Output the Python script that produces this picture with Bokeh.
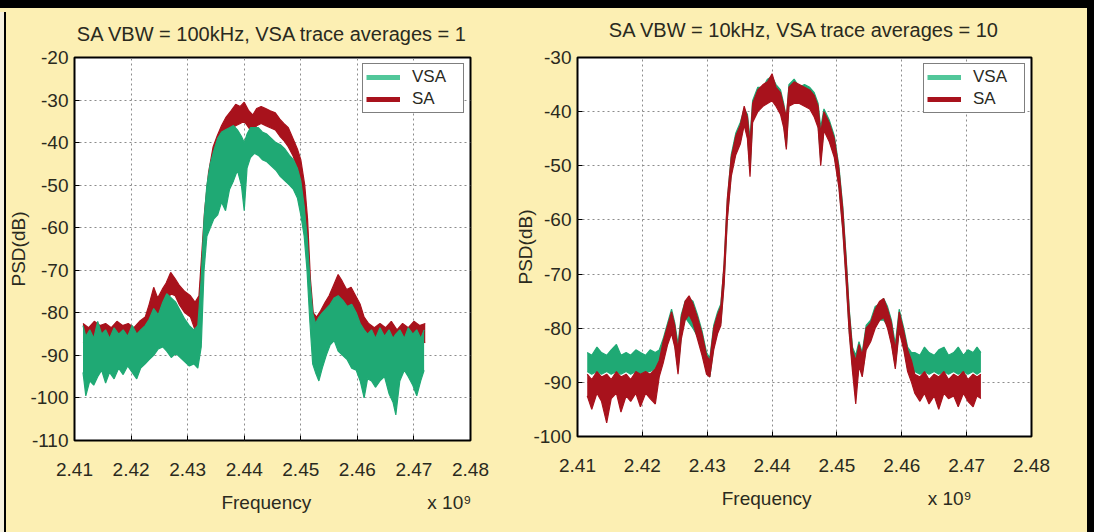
from bokeh.plotting import figure
from bokeh.layouts import row
from bokeh.models import (FixedTicker, PrintfTickFormatter, Legend, LegendItem,
                          GlobalInlineStyleSheet, Range1d)
from bokeh.embed import file_html
from bokeh.resources import INLINE

# ---------------- data ----------------
title_left = "SA VBW = 100kHz, VSA trace averages = 1"
title_right = "SA VBW = 10kHz, VSA trace averages = 10"
x_label = "Frequency"
x_scale_note = "x 10\u2079"
y_label = "PSD(dB)"
x_ticks = [2.41, 2.42, 2.43, 2.44, 2.45, 2.46, 2.47, 2.48]
y_ticks_left = [-110, -100, -90, -80, -70, -60, -50, -40, -30, -20]
y_ticks_right = [-100, -90, -80, -70, -60, -50, -40, -30]
series_names = ["VSA", "SA"]

# Left panel, SA trace (upper / lower envelope of the noisy trace)
lsa_f = [2.4115, 2.4125, 2.4135, 2.4145, 2.4155, 2.4165, 2.4175, 2.4185, 2.4195, 2.4205, 2.4215, 2.4225,
         2.4232, 2.4240, 2.4247, 2.4255, 2.4262, 2.4270, 2.4278, 2.4285, 2.4295, 2.4305, 2.4313, 2.4320,
         2.4325, 2.4330, 2.4337, 2.4345, 2.4352, 2.4360, 2.4368, 2.4377, 2.4385, 2.4393, 2.4400, 2.4408,
         2.4415, 2.4422, 2.4430, 2.4438, 2.4446, 2.4455, 2.4463, 2.4470, 2.4478, 2.4486, 2.4494, 2.4500,
         2.4507, 2.4512, 2.4517, 2.4522, 2.4528,
         2.4535, 2.4543, 2.4550, 2.4558, 2.4566, 2.4573, 2.4581, 2.4589, 2.4597, 2.4605, 2.4612, 2.4620,
         2.4630, 2.4640, 2.4650, 2.4660, 2.4670, 2.4680, 2.4690, 2.4700, 2.4710, 2.4720]
lsa_top = [-82.5, -83.5, -82, -83, -82.5, -83.5, -82, -83, -82.5, -83.5, -82, -81,
           -78, -74, -76.5, -74.5, -73, -70.5, -72, -73.5, -75, -76, -77.5, -76,
           -66, -56, -47, -41, -38.5, -36, -34, -32.5, -31, -31.5, -30.5, -32.5,
           -33.5, -32, -31.5, -32, -32.5, -33, -34.5, -35.5, -36.5, -39, -41.5, -44,
           -50, -58, -72, -80, -81,
           -79.5, -77.5, -76, -73.5, -71, -72.5, -74.5, -74, -76, -78, -81, -82.5,
           -83.5, -82.5, -83.5, -82, -84, -82.5, -83.5, -82, -83, -82.5]
lsa_bot = [-87, -86.5, -87, -86, -87.5, -86, -87, -86.5, -87, -86, -86.5, -85,
           -82, -80, -80.5, -79, -78, -75.5, -76, -78, -80, -81, -84, -82,
           -74, -62, -52, -46, -43, -40, -38.5, -37, -36, -35.5, -35, -36.5,
           -37.5, -36, -35.5, -36, -36.5, -37, -38.5, -39.5, -41, -43, -46, -49,
           -56, -64, -78, -84, -85,
           -83.5, -82, -80.5, -78, -76, -77, -79, -78.5, -80.5, -82.5, -85, -86.5,
           -86, -87, -86.5, -87, -86.5, -87, -86, -87, -86.5, -87]

# Left panel, VSA trace
lvsa_f = [2.4115, 2.4120, 2.4127, 2.4134, 2.4141, 2.4148, 2.4155, 2.4162, 2.4170, 2.4178, 2.4186, 2.4194,
          2.4202, 2.4210, 2.4217, 2.4225,
          2.4232, 2.4240, 2.4248, 2.4256, 2.4263, 2.4271, 2.4279, 2.4287, 2.4295, 2.4303, 2.4311, 2.4318,
          2.4324, 2.4329, 2.4334, 2.4340, 2.4346, 2.4353, 2.4360, 2.4367, 2.4374, 2.4381,
          2.4388, 2.4395, 2.4400, 2.4405, 2.4411, 2.4418, 2.4425, 2.4432, 2.4440, 2.4448,
          2.4456, 2.4464, 2.4472, 2.4480, 2.4487, 2.4494, 2.4500, 2.4506, 2.4511, 2.4516, 2.4521,
          2.4526, 2.4532, 2.4538, 2.4545, 2.4552, 2.4559, 2.4566, 2.4574, 2.4582, 2.4590, 2.4598, 2.4605, 2.4612,
          2.4618, 2.4625, 2.4632, 2.4640, 2.4648, 2.4656, 2.4663, 2.4668, 2.4675, 2.4683, 2.4690, 2.4698,
          2.4705, 2.4712, 2.4718]
lvsa_top = [-83, -85.5, -84, -86, -82, -85, -84, -86, -83.5, -85, -84, -85.5, -83, -85, -84, -83,
            -81.5, -79, -80.5, -77.5, -75.5, -76.5, -77.5, -79.5, -81.5, -83, -84, -83,
            -72, -58, -50, -45, -42, -39, -37.5, -37, -36.5, -36,
            -37, -38.5, -40, -38, -36.5, -36.5, -36.5, -37.5, -38, -39,
            -40, -40.5, -41.5, -43, -44, -46, -49, -55, -62, -72, -80,
            -82.5, -81, -80, -79, -78, -76.5, -76, -77, -78.5, -78, -80, -82.5, -84,
            -85, -84, -86, -83.5, -85.5, -84, -86, -85, -84, -86, -83.5, -85, -84, -86, -84]
lvsa_bot = [-94, -99.5, -96, -97, -95, -93.5, -96.5, -94, -95.5, -93, -94.5, -92.5, -94, -95.5, -93, -92,
            -91, -90, -88.5, -88, -89, -90.5, -89.5, -90.5, -91.5, -92.5, -92, -93,
            -88, -70, -62, -60, -58, -57, -54, -56, -51, -49,
            -46.5, -50, -56, -46, -43.5, -42.5, -43, -44, -44.5, -45.5,
            -46.5, -48, -49, -50, -51, -53, -57, -62, -70, -82, -92,
            -94, -96, -93, -90, -87.5, -86.5, -89, -90, -91, -93, -93.5, -96, -100,
            -95.5, -96, -97.5, -96, -95, -99, -101, -104, -96, -93.5, -95, -97, -99.5, -96, -93.5]

# Right panel (both traces share the frequency points)
r_f = [2.4115, 2.4122, 2.4130, 2.4137, 2.4145, 2.4152, 2.4160, 2.4167, 2.4175, 2.4182, 2.4190, 2.4197,
       2.4205, 2.4212, 2.4220, 2.4226,
       2.4232, 2.4239, 2.4245, 2.4250, 2.4255, 2.4260, 2.4266, 2.4272, 2.4278, 2.4285, 2.4292, 2.4299,
       2.4304, 2.4310, 2.4316, 2.4321,
       2.4326, 2.4331, 2.4337, 2.4344, 2.4351, 2.4357, 2.4362, 2.4366, 2.4370, 2.4378,
       2.4386, 2.4393, 2.4400, 2.4406, 2.4413, 2.4418, 2.4422, 2.4426, 2.4434, 2.4442,
       2.4450, 2.4458, 2.4465, 2.4471, 2.4475, 2.4480, 2.4488, 2.4496, 2.4503, 2.4509,
       2.4514, 2.4519, 2.4524,
       2.4529, 2.4534, 2.4539, 2.4545, 2.4552, 2.4559, 2.4566, 2.4572, 2.4578, 2.4584, 2.4590, 2.4596,
       2.4603, 2.4609, 2.4615,
       2.4620, 2.4628, 2.4635, 2.4642, 2.4650, 2.4657, 2.4665, 2.4672, 2.4680, 2.4687, 2.4695, 2.4702,
       2.4710, 2.4716, 2.4722]
rsa_top = [-88.5, -89.5, -88, -89, -88.5, -89.5, -88, -89, -88.5, -89.5, -88, -88.5, -88, -88.5, -87.5, -86,
           -82.5, -79.5, -77, -79.5, -84, -78, -75, -74, -75.5, -78, -81, -85, -86, -80, -77.5, -76,
           -68, -56, -48.5, -44.5, -42.5, -39, -41, -46, -38.5, -36,
           -35, -34.5, -33, -35.5, -36.5, -39, -41, -35.5, -34.5, -35,
           -35.5, -36, -37, -39, -44, -40, -42, -45, -50.5, -58,
           -67, -77, -84,
           -86, -83, -85, -80, -79, -76.5, -75, -74.5, -76.5, -79, -84, -77, -80.5, -84, -86,
           -88.5, -89, -88, -89.5, -88.5, -89, -88, -89.5, -88.5, -89, -88, -89.5, -88.5, -89, -88.5]
rsa_bot = [-92.5, -95, -92, -93.5, -97.5, -93, -92, -95.5, -92.5, -93.5, -92, -94.5, -92, -93, -94, -89,
           -86.5, -83, -81, -83.5, -88.5, -82, -78.5, -77.5, -79, -82, -85, -88.5, -89, -84, -81, -79.5,
           -72, -60, -52, -48, -46, -42.5, -45, -52, -42, -40,
           -39, -38.5, -38, -39, -40.5, -43, -47, -39, -38.5, -38.5,
           -39, -39.5, -41, -43, -50, -43.5, -45.5, -48.5, -54, -62,
           -71, -81, -88,
           -94, -87, -89, -84, -82.5, -80, -78.5, -78, -80, -83, -87.5, -80.5, -84, -88, -90,
           -92, -93.5, -92, -94, -92.5, -95, -92, -93, -92.5, -94.5, -92, -93.5, -94.5, -92.5, -93]
rvsa_top = [-84.5, -85, -83.5, -84.5, -85, -84, -83, -85, -84.5, -85, -84, -84.5, -85, -84, -84.5, -84,
            -82, -79, -76.5, -79, -83, -77.5, -75, -74.5, -75, -77.5, -80.5, -84.5, -85.5, -79.5, -77, -75.5,
            -68.5, -56.5, -48, -44, -42, -39.5, -40.5, -45, -38, -35.5,
            -35.5, -34, -33.5, -35, -36, -38.5, -41.5, -35, -34, -35.5,
            -35, -35.5, -36.5, -38.5, -43, -39.5, -41.5, -44.5, -50, -57.5,
            -66.5, -76.5, -83.5,
            -85, -82.5, -84.5, -79.5, -78.5, -76, -75.5, -74.5, -76, -78.5, -83, -76.5, -80, -83.5, -84.5,
            -84.5, -85, -83.5, -84.5, -85, -84, -83.5, -85, -84.5, -83.5, -85, -84, -84.5, -83.5, -84.5]
rvsa_bot = [-88, -88.5, -88, -88.5, -88, -88.5, -88, -88.5, -88, -88.5, -88, -88.5, -88, -88, -87.5, -87,
            -85.5, -82.5, -80.5, -83, -87.5, -81.5, -78, -79, -80, -81.5, -84.5, -88, -89, -83.5, -80.5, -79,
            -71.5, -59.5, -51.5, -47.5, -45.5, -42, -44.5, -51, -41.5, -39.5,
            -38.5, -38, -37.5, -38.5, -40, -42.5, -46.5, -38.5, -38, -38,
            -38.5, -39, -40.5, -42.5, -49, -43, -45, -48, -53.5, -61.5,
            -70.5, -80.5, -87,
            -92, -86.5, -88.5, -83.5, -82, -79.5, -78.5, -78.5, -79.5, -82.5, -87, -80, -83.5, -87.5, -88.5,
            -88, -88.5, -88, -88.5, -88, -88.5, -88, -88.5, -88, -88.5, -88, -88.5, -88, -88.5, -88]

for a, b, c in [(lsa_f, lsa_top, lsa_bot), (lvsa_f, lvsa_top, lvsa_bot),
                (r_f, rsa_top, rsa_bot), (r_f, rvsa_top, rvsa_bot)]:
    assert len(a) == len(b) == len(c), (len(a), len(b), len(c))

# ---------------- styling ----------------
BG = "#FCEFB3"
GREEN = "#1FA974"
GREEN_LEG = "#52C79A"
RED = "#A8121C"
TXT = "#2A2A1E"
FONT = "Liberation Sans"
FS = "19px"
NB = "\u00a0"


def style(p, yticks, xlab, title_standoff, ylab_standoff):
    p.background_fill_color = "white"
    p.border_fill_color = BG
    p.outline_line_color = "black"
    p.outline_line_width = 2
    p.title.align = "center"
    p.title.text_font = FONT
    p.title.text_font_size = "20px"
    p.title.text_font_style = "normal"
    p.title.text_color = TXT
    p.title.standoff = title_standoff
    p.xaxis.ticker = FixedTicker(ticks=x_ticks)
    p.yaxis.ticker = FixedTicker(ticks=yticks)
    p.xaxis.formatter = PrintfTickFormatter(format="%.2f")
    p.yaxis.formatter = PrintfTickFormatter(format="%d")
    for ax in (p.xaxis[0], p.yaxis[0]):
        ax.axis_line_color = None
        ax.major_tick_in = 5
        ax.major_tick_out = 0
        ax.minor_tick_line_color = None
        ax.major_tick_line_color = "black"
        ax.major_label_text_font = FONT
        ax.major_label_text_font_size = FS
        ax.major_label_text_color = TXT
        ax.axis_label_text_font = FONT
        ax.axis_label_text_font_size = FS
        ax.axis_label_text_font_style = "normal"
        ax.axis_label_text_color = TXT
    p.xaxis.major_label_standoff = 22
    p.xaxis.axis_label = xlab
    p.xaxis.axis_label_standoff = 13
    p.yaxis.major_label_standoff = 6
    p.yaxis.axis_label = y_label
    p.yaxis.axis_label_standoff = ylab_standoff
    for g in (p.xgrid[0], p.ygrid[0]):
        g.grid_line_color = "#8C8C8C"
        g.grid_line_dash = "2 3"
        g.grid_line_width = 1


def band(p, f, top, bot, color):
    p.varea(x=f, y1=bot, y2=top, fill_color=color)
    p.line(f, top, line_color=color, line_width=1.2)
    p.line(f, bot, line_color=color, line_width=1.2)


def legend(p, f, ya, yb):
    # one-point lines: draw nothing in the plot, give the legend its line swatches
    r1 = p.line(x=f[:1], y=ya[:1], line_color=GREEN_LEG, line_width=5)
    r2 = p.line(x=f[:1], y=yb[:1], line_color=RED, line_width=5)
    lg = Legend(items=[LegendItem(label=series_names[0], renderers=[r1]),
                       LegendItem(label=series_names[1], renderers=[r2])],
                location="top_right")
    lg.margin = 6
    lg.padding = 3
    lg.spacing = 2
    lg.glyph_width = 34
    lg.glyph_height = 20
    lg.label_height = 20
    lg.label_width = 48
    lg.label_standoff = 12
    lg.label_text_font = FONT
    lg.label_text_font_size = "17px"
    lg.label_text_color = TXT
    lg.border_line_color = "black"
    lg.border_line_width = 1
    lg.background_fill_alpha = 1
    p.add_layout(lg, "center")


# x-axis label: "Frequency" near the middle and the "x 10^9" scale note at the right
xlab_left = NB * 31 + x_label + NB * 22 + x_scale_note + NB * 3
xlab_right = NB * 16 + x_label + NB * 22 + x_scale_note

# ---------------- left panel ----------------
p1 = figure(frame_width=396, frame_height=383, min_border_left=74, min_border_right=42,
            min_border_top=52, min_border_bottom=81, x_range=Range1d(2.41, 2.48),
            y_range=Range1d(-110, -20), title=title_left, output_backend="svg",
            toolbar_location=None)
style(p1, y_ticks_left, xlab_left, 26, -2)
band(p1, lsa_f, lsa_top, lsa_bot, RED)
band(p1, lvsa_f, lvsa_top, lvsa_bot, GREEN)
legend(p1, lvsa_f, lvsa_top, lsa_top)

# ---------------- right panel ----------------
p2 = figure(frame_width=454, frame_height=379, min_border_left=65, min_border_right=47,
            min_border_top=56, min_border_bottom=81, x_range=Range1d(2.41, 2.48),
            y_range=Range1d(-100, -30), title=title_right, output_backend="svg",
            toolbar_location=None)
style(p2, y_ticks_right, xlab_right, 33, -6)
band(p2, r_f, rvsa_top, rvsa_bot, GREEN)
band(p2, r_f, rsa_top, rsa_bot, RED)
legend(p2, r_f, rvsa_top, rsa_top)

layout = row(p1, p2)
layout.stylesheets = [GlobalInlineStyleSheet(css=(
    "html { background: " + BG + "; }"
    " body { background: transparent; }"
    " body::before { content: ''; position: fixed; left: 0; top: 0; right: 0; bottom: 0;"
    " border-top: 8px solid #000; border-right: 7px solid #000; box-sizing: border-box;"
    " pointer-events: none; z-index: 10; }"
    " body::after { content: ''; position: fixed; left: 0; top: 12px; bottom: 0; width: 6px;"
    " background: linear-gradient(to right, #F6F1DF 0, #F6F1DF 4px, #000 4px, #000 6px);"
    " pointer-events: none; z-index: 10; }"))]

open("out.html", "w").write(file_html(layout, INLINE))
